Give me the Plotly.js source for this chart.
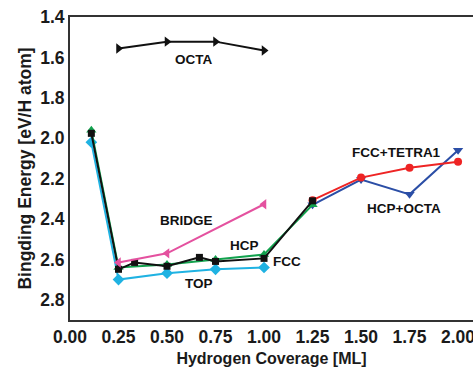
<!DOCTYPE html>
<html><head><meta charset="utf-8">
<script src="https://cdn.plot.ly/plotly-3.0.1.min.js"></script>
<style>html,body{margin:0;padding:0;background:#fff;overflow:hidden}#c{width:492px;height:367px}</style>
</head><body><div id="c"></div>
<script>
// Data
const octaX = [0.25, 0.5, 0.75, 1.0];
const octaY = [1.556, 1.522, 1.522, 1.566];
const fccX = [0.11, 0.25, 0.333, 0.5, 0.667, 0.75, 1.0, 1.25];
const fccY = [1.976, 2.649, 2.615, 2.634, 2.59, 2.61, 2.595, 2.31];
const hcpX = [0.11, 0.25, 0.5, 0.75, 1.0, 1.25];
const hcpY = [1.961, 2.64, 2.625, 2.60, 2.576, 2.33];
const topX = [0.11, 0.25, 0.5, 0.75, 1.0];
const topY = [2.02, 2.70, 2.668, 2.649, 2.64];
const bridgeX = [0.25, 0.5, 1.0];
const bridgeY = [2.615, 2.57, 2.327];
const tetraX = [1.25, 1.5, 1.75, 2.0];
const tetraY = [2.307, 2.195, 2.146, 2.117];
const hcpOctaX = [1.25, 1.5, 1.75, 2.0];
const hcpOctaY = [2.33, 2.205, 2.278, 2.06];
const xTicks = [0, 0.25, 0.5, 0.75, 1.0, 1.25, 1.5, 1.75, 2.0];
const xTickText = ["0.00","0.25","0.50","0.75","1.00","1.25","1.50","1.75","2.00"];
const yTicks = [1.4, 1.6, 1.8, 2.0, 2.2, 2.4, 2.6, 2.8];
const yTickText = ["1.4","1.6","1.8","2.0","2.2","2.4","2.6","2.8"];
const labels = [
  {t:"OCTA", x:0.636, y:1.61},
  {t:"BRIDGE", x:0.60, y:2.405},
  {t:"HCP", x:0.90, y:2.53},
  {t:"FCC", x:1.12, y:2.61},
  {t:"TOP", x:0.665, y:2.72},
  {t:"FCC+TETRA1", x:1.685, y:2.073},
  {t:"HCP+OCTA", x:1.72, y:2.35}
];

function tr(x, y, color, symbol, size) {
  return {x:x, y:y, type:'scatter', mode:'lines+markers',
    line:{color:color, width:2}, marker:{color:color, symbol:symbol, size:size||8},
    showlegend:false, cliponaxis:false};
}
const data = [
  tr(hcpOctaX, hcpOctaY, '#2b4ea6', 'triangle-down', 9),
  tr(tetraX, tetraY, '#ee2424', 'circle', 8),
  tr(topX, topY, '#1fb2e2', 'diamond', 9),
  tr(hcpX, hcpY, '#12a24e', 'triangle-up', 9),
  tr(fccX, fccY, '#111111', 'square', 7),
  tr(bridgeX, bridgeY, '#e4519f', 'triangle-left', 9),
  tr(octaX, octaY, '#111111', 'triangle-right', 9)
];
const fam = 'Liberation Sans, Arial, sans-serif';
const layout = {
  width:492, height:367,
  margin:{l:70, r:19, t:17, b:47},
  paper_bgcolor:'#fff', plot_bgcolor:'#fff',
  showlegend:false,
  xaxis:{range:[0, 2.077], tickvals:xTicks, ticktext:xTickText,
    showgrid:false, zeroline:false, showline:true, mirror:true,
    linecolor:'#333', linewidth:2, ticks:'', ticklen:0,
    tickfont:{family:fam, size:17.5, color:'#1a1a1a', weight:'bold'},
    title:{text:'<b>Hydrogen Coverage [ML]</b>', standoff:8,
      font:{family:fam, size:16, color:'#1a1a1a'}}},
  yaxis:{range:[2.9, 1.4], tickvals:yTicks, ticktext:yTickText,
    showgrid:false, zeroline:false, showline:true,
    linecolor:'#333', linewidth:2, ticks:'', ticklen:0,
    tickfont:{family:fam, size:17.5, color:'#1a1a1a', weight:'bold'},
    title:{text:'<b>Bingding Energy [eV/H atom]</b>', standoff:4,
      font:{family:fam, size:17.5, color:'#1a1a1a'}}},
  annotations: labels.map(l => ({x:l.x, y:l.y, xref:'x', yref:'y', text:'<b>'+l.t+'</b>',
    showarrow:false, font:{family:fam, size:13.5, color:'#111'}}))
};
Plotly.newPlot('c', data, layout, {displayModeBar:false, staticPlot:true});
</script></body></html>
